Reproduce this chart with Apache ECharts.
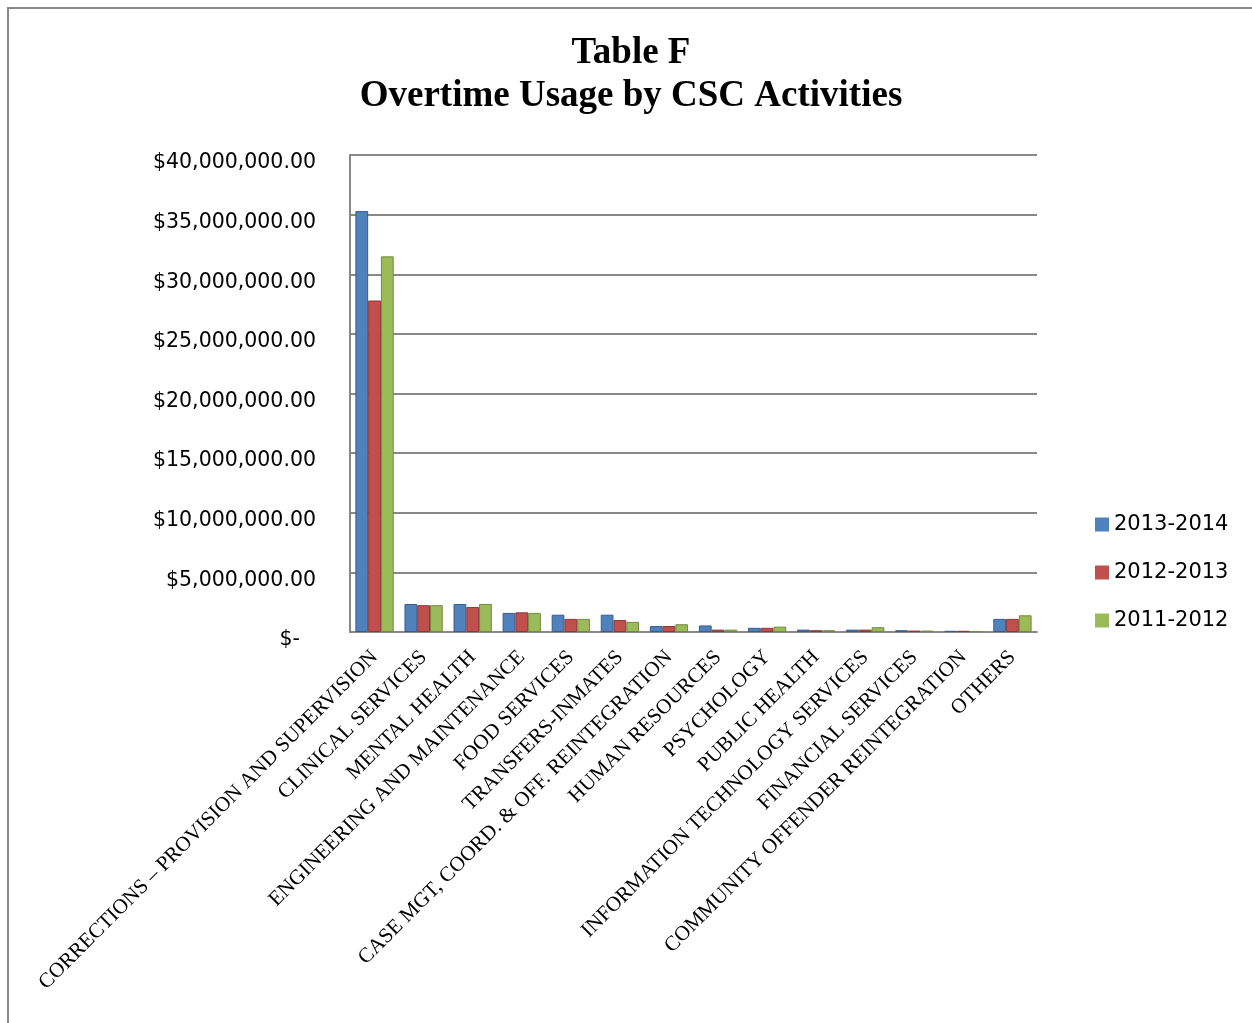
<!DOCTYPE html>
<html>
<head>
<meta charset="utf-8">
<script src="https://cdn.jsdelivr.net/npm/echarts@6/dist/echarts.min.js"></script>
<style>
  html, body { margin: 0; padding: 0; background: #fff; }
  #chart { width: 1252px; height: 1023px; }
</style>
</head>
<body>
<div id="chart"></div>
<script>
// Overtime cost per CSC activity, in dollars
const categories = [
  'CORRECTIONS – PROVISION AND SUPERVISION',
  'CLINICAL SERVICES',
  'MENTAL HEALTH',
  'ENGINEERING AND MAINTENANCE',
  'FOOD SERVICES',
  'TRANSFERS-INMATES',
  'CASE MGT, COORD. & OFF. REINTEGRATION',
  'HUMAN RESOURCES',
  'PSYCHOLOGY',
  'PUBLIC HEALTH',
  'INFORMATION TECHNOLOGY SERVICES',
  'FINANCIAL SERVICES',
  'COMMUNITY OFFENDER REINTEGRATION',
  'OTHERS'
];
const seriesNames = ['2013-2014', '2012-2013', '2011-2012'];
const fy2013_2014 = [35300000, 2350000, 2350000, 1600000, 1450000, 1450000, 500000, 550000, 350000, 200000, 200000, 150000, 100000, 1100000];
const fy2012_2013 = [27800000, 2250000, 2100000, 1650000, 1100000, 1000000, 500000, 200000, 350000, 150000, 200000, 120000, 100000, 1100000];
const fy2011_2012 = [31500000, 2250000, 2350000, 1600000, 1100000, 850000, 650000, 200000, 450000, 150000, 400000, 120000, 80000, 1400000];
const yTicks = { min: 0, max: 40000000, interval: 5000000 };

const colors = ['#4F81BD', '#C0504D', '#9BBB59'];
const edges = ['#385D8A', '#8C3836', '#71893F'];

function money(v) {
  if (v === 0) return '{z|$-}';
  return '$' + v.toLocaleString('en-US', { minimumFractionDigits: 2, maximumFractionDigits: 2 });
}

const chart = echarts.init(document.getElementById('chart'), null, { renderer: 'canvas' });
const valueSets = [fy2013_2014, fy2012_2013, fy2011_2012];

chart.setOption({
  backgroundColor: '#ffffff',
  animation: false,
  title: {
    text: 'Table F\nOvertime Usage by CSC Activities',
    left: 626,
    textAlign: 'center',
    top: 27,
    textStyle: {
      fontFamily: 'Liberation Serif',
      fontWeight: 'bold',
      fontSize: 37,
      lineHeight: 43,
      color: '#000'
    }
  },
  graphic: [{
    type: 'rect',
    shape: { x: 8, y: 8, width: 1260, height: 1040 },
    style: { fill: 'none', stroke: '#888888', lineWidth: 2 },
    silent: true
  }],
  legend: {
    orient: 'vertical',
    left: 1090,
    top: 509,
    itemWidth: 14,
    itemHeight: 14,
    itemGap: 27,
    icon: 'rect',
    itemStyle: { borderWidth: 0 },
    data: seriesNames,
    textStyle: { fontFamily: 'DejaVu Sans', fontSize: 21, color: '#000', padding: [0, 0, 0, 0] }
  },
  grid: { left: 350, right: 215, top: 155, bottom: 391, containLabel: false },
  xAxis: {
    type: 'category',
    data: categories,
    axisLine: { show: true, lineStyle: { color: '#888888', width: 2 } },
    axisTick: { show: false },
    axisLabel: {
      interval: 0,
      rotate: 45,
      margin: 22,
      fontFamily: 'Liberation Serif',
      fontSize: 21,
      color: '#000'
    }
  },
  yAxis: {
    type: 'value',
    min: yTicks.min,
    max: yTicks.max,
    interval: yTicks.interval,
    axisLine: { show: true, lineStyle: { color: '#888888', width: 2 } },
    axisTick: { show: false },
    splitLine: { lineStyle: { color: '#888888', width: 2 } },
    axisLabel: {
      margin: 34,
      fontFamily: 'DejaVu Sans',
      fontSize: 20.5,
      color: '#000',
      padding: [16, 0, 0, 0],
      formatter: money,
      rich: { z: { fontFamily: 'DejaVu Sans', fontSize: 20.5, color: '#000', padding: [0, 16, 0, 0] } }
    }
  },
  series: seriesNames.map((name, i) => ({
    name: name,
    type: 'bar',
    data: valueSets[i],
    barGap: '0%',
    barCategoryGap: '22%',
    itemStyle: { color: colors[i], borderColor: edges[i], borderWidth: 1 }
  }))
});
</script>
</body>
</html>
